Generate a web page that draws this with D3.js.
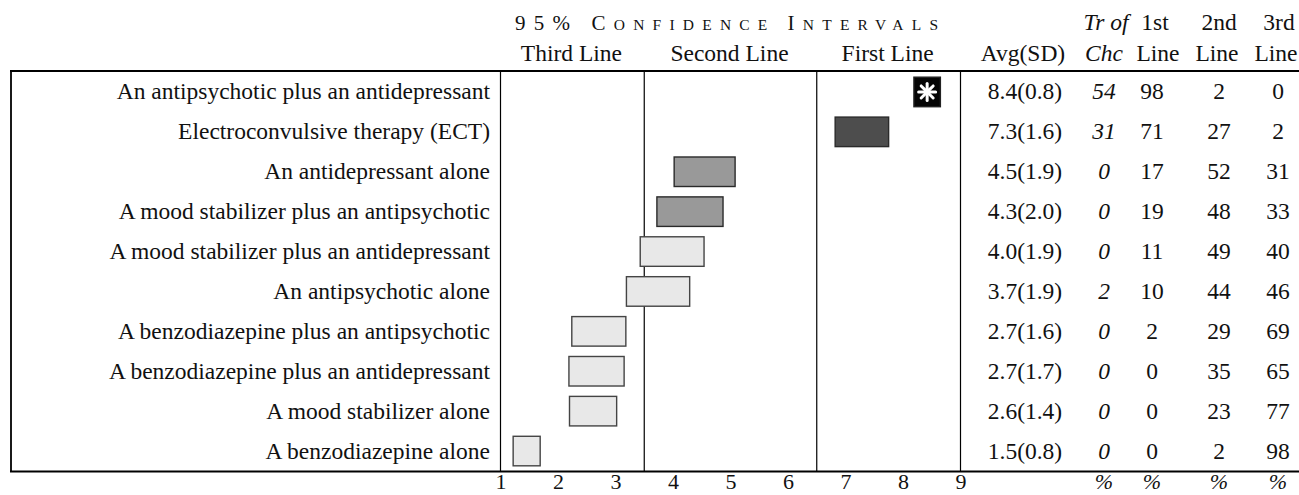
<!DOCTYPE html>
<html>
<head>
<meta charset="utf-8">
<script src="https://cdn.jsdelivr.net/npm/d3@7"></script>
<style>
  html, body { margin: 0; padding: 0; background: #fff; }
  svg text { font-family: "Liberation Serif", "Times New Roman", serif; fill: #111; }
</style>
</head>
<body>
<svg id="chart" width="1299" height="495"></svg>
<script>
// ---- data ----
const treatments = [
  "An antipsychotic plus an antidepressant",
  "Electroconvulsive therapy (ECT)",
  "An antidepressant alone",
  "A mood stabilizer plus an antipsychotic",
  "A mood stabilizer plus an antidepressant",
  "An antipsychotic alone",
  "A benzodiazepine plus an antipsychotic",
  "A benzodiazepine plus an antidepressant",
  "A mood stabilizer alone",
  "A benzodiazepine alone"
];
const avgValues = [8.4, 7.3, 4.5, 4.3, 4.0, 3.7, 2.7, 2.7, 2.6, 1.5];
const sdValues  = [0.8, 1.6, 1.9, 2.0, 1.9, 1.9, 1.6, 1.7, 1.4, 0.8];
const ciLow  = [8.19, 6.82, 4.02, 3.72, 3.43, 3.19, 2.24, 2.19, 2.20, 1.22];
const ciHigh = [8.65, 7.75, 5.08, 4.87, 4.54, 4.29, 3.18, 3.15, 3.02, 1.69];
const tiers  = ["best", "first", "second", "second", "third", "third", "third", "third", "third", "third"];
const treatmentOfChoice = [54, 31, 0, 0, 0, 2, 0, 0, 0, 0];
const firstLine  = [98, 71, 17, 19, 11, 10, 2, 0, 0, 0];
const secondLine = [2, 27, 52, 48, 49, 44, 29, 35, 23, 2];
const thirdLine  = [0, 2, 31, 33, 40, 46, 69, 65, 77, 98];
const tickValues = [1, 2, 3, 4, 5, 6, 7, 8, 9];
const bandLabels = ["Third Line", "Second Line", "First Line"];
const bandRanges = [[1, 3.5], [3.5, 6.5], [6.5, 9]];

// ---- layout ----
const svg = d3.select("#chart");
const FS = 23.5;
const x = d3.scaleLinear().domain([1, 9]).range([500.5, 960.5]);
const y = d3.scaleBand().domain(d3.range(treatments.length)).range([72, 471]).paddingInner(0.26).paddingOuter(0.13);
const rowC = i => y(i) + y.bandwidth() / 2;

const fills = { best: "#050505", first: "#4d4d4d", second: "#999999", third: "#e8e8e8" };
const strokes = { best: "#222", first: "#2a2a2a", second: "#2a2a2a", third: "#444" };

// frame lines
svg.append("line").attr("x1", 10).attr("x2", 1299).attr("y1", 71).attr("y2", 71)
  .attr("stroke", "#000").attr("stroke-width", 2.2);
svg.append("line").attr("x1", 10).attr("x2", 1299).attr("y1", 471.5).attr("y2", 471.5)
  .attr("stroke", "#000").attr("stroke-width", 2.2);
svg.append("line").attr("x1", 11).attr("x2", 11).attr("y1", 71).attr("y2", 471.5)
  .attr("stroke", "#000").attr("stroke-width", 1.8);
[1, 3.5, 6.5, 9].forEach(v => {
  svg.append("line").attr("x1", x(v)).attr("x2", x(v)).attr("y1", 71).attr("y2", 471.5)
    .attr("stroke", "#000").attr("stroke-width", 1.2);
});

// headers
const h1 = svg.append("text").attr("x", 515).attr("y", 29.5)
  .attr("textLength", 423).attr("lengthAdjust", "spacing");
const capsParts = [["95% ", 21], ["C", 21], ["ONFIDENCE ", 15.5], ["I", 21], ["NTERVALS", 15.5]];
capsParts.forEach(p => h1.append("tspan").attr("font-size", p[1]).text(p[0]));

svg.selectAll(".band-label").data(bandLabels).enter().append("text")
  .attr("class", "band-label")
  .attr("x", (d, i) => (x(bandRanges[i][0]) + x(bandRanges[i][1])) / 2 - 1)
  .attr("y", 61).attr("text-anchor", "middle").attr("font-size", FS).text(d => d);

const colAvg = 1025, colToc = 1104, col1 = 1152, col2 = 1219, col3 = 1278;
function hdr(txt, cx, yy, italic) {
  svg.append("text").attr("x", cx).attr("y", yy).attr("text-anchor", "middle")
    .attr("font-size", FS).attr("font-style", italic ? "italic" : "normal").text(txt);
}
hdr("Avg(SD)", 1023, 61, false);
hdr("Tr of", 1106, 29.5, true);
hdr("Chc", 1104, 61, true);
hdr("1st", 1155, 29.5, false);
hdr("Line", 1158, 61, false);
hdr("2nd", 1219, 29.5, false);
hdr("Line", 1217, 61, false);
hdr("3rd", 1279, 29.5, false);
hdr("Line", 1276, 61, false);

// row labels
svg.selectAll(".rowlab").data(treatments).enter().append("text")
  .attr("class", "rowlab").attr("x", 490).attr("y", (d, i) => rowC(i) + 7.5)
  .attr("text-anchor", "end").attr("font-size", FS).text(d => d);

// bars
svg.selectAll(".bar").data(treatments).enter().append("rect")
  .attr("class", "bar")
  .attr("x", (d, i) => x(ciLow[i]))
  .attr("width", (d, i) => x(ciHigh[i]) - x(ciLow[i]))
  .attr("y", (d, i) => y(i))
  .attr("height", y.bandwidth())
  .attr("fill", (d, i) => fills[tiers[i]])
  .attr("stroke", (d, i) => strokes[tiers[i]])
  .attr("stroke-width", 1.4);

// asterisk on best bar
tiers.forEach((t, i) => {
  if (t !== "best") return;
  const cx = (x(ciLow[i]) + x(ciHigh[i])) / 2, cy = rowC(i);
  const g = svg.append("g").attr("transform", `translate(${cx},${cy})`);
  d3.range(8).forEach(k => {
    const a = k * Math.PI / 4;
    g.append("line").attr("x1", Math.sin(a) * 2.5).attr("y1", -Math.cos(a) * 2.5)
      .attr("x2", Math.sin(a) * 8.5).attr("y2", -Math.cos(a) * 8.5)
      .attr("stroke", "#fff").attr("stroke-width", 3).attr("stroke-linecap", "round");
  });
  g.append("circle").attr("r", 2.6).attr("fill", "#fff");
});

// table values
function col(vals, cx, italic, fmt) {
  svg.selectAll(null).data(vals).enter().append("text")
    .attr("x", cx).attr("y", (d, i) => rowC(i) + 7.5)
    .attr("text-anchor", "middle").attr("font-size", FS)
    .attr("font-style", italic ? "italic" : "normal")
    .text(fmt);
}
col(avgValues, colAvg, false, (d, i) => `${d.toFixed(1)}(${sdValues[i].toFixed(1)})`);
col(treatmentOfChoice, colToc, true, d => d);
col(firstLine, col1, false, d => d);
col(secondLine, col2, false, d => d);
col(thirdLine, col3, false, d => d);

// bottom axis
const axis = d3.axisBottom(x).tickValues(tickValues).tickSize(0).tickPadding(0).tickFormat(d3.format("d"));
const ga = svg.append("g").attr("transform", "translate(0,473)").call(axis);
ga.select(".domain").remove();
ga.selectAll("text").attr("font-size", 22).attr("font-family", '"Liberation Serif", serif')
  .attr("fill", "#111").attr("dy", "0.72em");

[colToc, col1, col2, col3].forEach(cx => {
  svg.append("text").attr("x", cx).attr("y", 489).attr("text-anchor", "middle")
    .attr("font-size", 22).attr("font-style", "italic").text("%");
});
</script>
</body>
</html>
